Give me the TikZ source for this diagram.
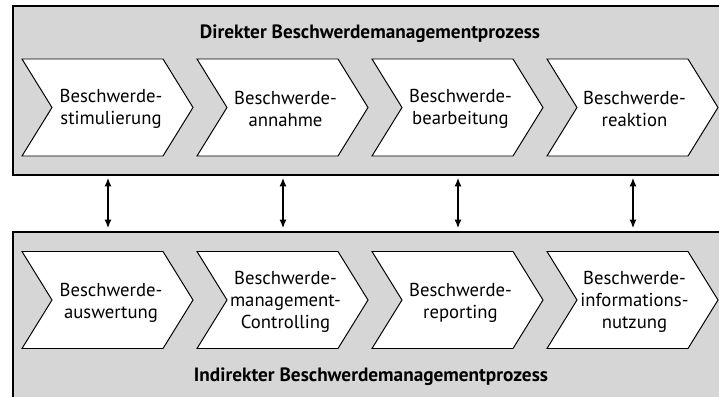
\documentclass[tikz,border=0pt]{standalone}
\usepackage{fontspec}
\setmainfont{PT Sans}
\usetikzlibrary{arrows.meta}
\definecolor{bandgray}{RGB}{214,214,214}
\tikzset{%
band/.style={fill=bandgray,draw=black,line width=0.9pt},
chevron/.style={fill=white,draw=black,line width=0.7pt},
chevtext/.style={align=center,inner sep=0pt,font=\fontsize{13.3}{15.5}\selectfont},
bandtitle/.style={inner sep=0pt,anchor=base,font=\bfseries\fontsize{13.7}{15}\selectfont},
link/.style={{Latex[length=6pt,width=5pt]}-{Latex[length=6pt,width=5pt]},line width=0.75pt},
}
\newcommand{\chev}[2]{%
\filldraw[chevron] (#1-85.5,#2-48.5) -- ++(141,0) -- ++(30,48.5) -- ++(-30,48.5) -- ++(-141,0) -- ++(30,-48.5) -- cycle;}

\begin{document}
\begin{tikzpicture}[%
x=0.025cm,y=-0.025cm,
]
\useasboundingbox (0,0) rectangle (719,396);
\clip (0,0) rectangle (719,396);
%% bands;
\draw[band] (13,6) rectangle (740,175);
\draw[band] (13,232) rectangle (740,420);
%% titles;
\node[bandtitle] (dtitle) at (370,38) {Direkter Beschwerdemanagementprozess};
\node[bandtitle] (ititle) at (371,381) {Indirekter Beschwerdemanagementprozess};
%% direct chevrons;
\chev{107.5}{107.5}
\chev{282.5}{107.5}
\chev{457.5}{107.5}
\chev{632.5}{107.5}
\node[chevtext] (stim) at (111,109) {Beschwerde-\\stimulierung};
\node[chevtext] (annahme) at (285.5,109) {Beschwerde-\\annahme};
\node[chevtext] (bearb) at (460.5,109) {Beschwerde-\\bearbeitung};
\node[chevtext] (reakt) at (634.5,109) {Beschwerde-\\reaktion};
%% indirect chevrons;
\chev{107.5}{300}
\chev{282.5}{300}
\chev{457.5}{300}
\chev{632.5}{300}
\node[chevtext] (ausw) at (111,303) {Beschwerde-\\auswertung};
\node[chevtext] (controlling) at (285.5,302) {Beschwerde-\\management-\\Controlling};
\node[chevtext] (reporting) at (460.5,303) {Beschwerde-\\reporting};
\node[chevtext] (nutzung) at (634.5,302) {Beschwerde-\\informations-\\nutzung};
%% links;
\coordinate (u1) at (108,178);
\coordinate (l1) at (108,228);
\coordinate (u2) at (283,178);
\coordinate (l2) at (283,228);
\coordinate (u3) at (458,178);
\coordinate (l3) at (458,228);
\coordinate (u4) at (633,178);
\coordinate (l4) at (633,228);
\draw[link] (u1) -- (l1);
\draw[link] (u2) -- (l2);
\draw[link] (u3) -- (l3);
\draw[link] (u4) -- (l4);
\end{tikzpicture}
\end{document}
